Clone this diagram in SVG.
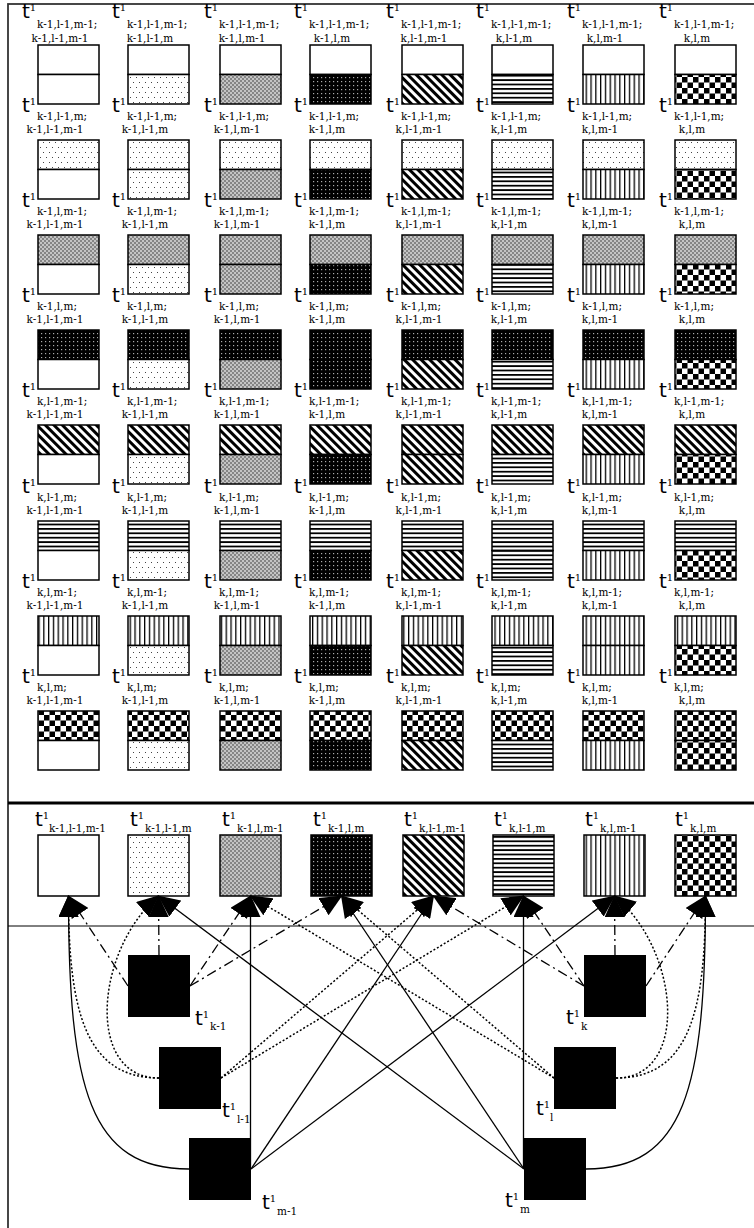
<svg xmlns="http://www.w3.org/2000/svg" width="754" height="1228" viewBox="0 0 754 1228">
<style>
.t{font-family:"DejaVu Sans",sans-serif;font-size:20px;fill:#000}
.sup{font-family:"DejaVu Serif",serif;font-size:10px}
.s{font-family:"DejaVu Serif",serif;font-size:10.5px;fill:#000}
.m{text-anchor:middle}
g.cell rect,g.node rect{stroke:#000;stroke-width:1.5}
g.blk rect{fill:#000;stroke:none}
.c{fill:none;stroke:#000;stroke-width:1.3;marker-end:url(#ah)}
.dot{stroke-dasharray:2 2;stroke-width:1.5}
.dd{stroke-dasharray:10 4 2 4}
</style>
<defs>
<marker id="ah" viewBox="0 0 22 20" refX="21" refY="10" markerWidth="22" markerHeight="20" orient="auto" markerUnits="userSpaceOnUse"><path d="M0,0 L22,10 L0,20 z" fill="#000"/></marker>
<pattern id="p1" width="6" height="10" patternUnits="userSpaceOnUse"><rect width="6" height="10" fill="#fff"/><rect x="1" y="2" width="1" height="1" fill="#444"/><rect x="4" y="7" width="1" height="1" fill="#444"/></pattern>
<pattern id="p2" width="4" height="4" patternUnits="userSpaceOnUse"><rect width="4" height="4" fill="#c4c4c4"/><rect width="2" height="2" fill="#858585"/><rect x="2" y="2" width="2" height="2" fill="#858585"/></pattern>
<pattern id="p3" width="4" height="4" patternUnits="userSpaceOnUse"><rect width="4" height="4" fill="#000"/><rect x="1" y="1" width="1.2" height="1.2" fill="#aaa"/></pattern>
<pattern id="p4" width="6" height="6" patternUnits="userSpaceOnUse" patternTransform="rotate(-45)"><rect width="6" height="6" fill="#fff"/><rect width="3" height="6" fill="#000"/></pattern>
<pattern id="p5" width="10" height="4.4" patternUnits="userSpaceOnUse"><rect width="10" height="4.4" fill="#fff"/><rect width="10" height="1.8" fill="#000"/></pattern>
<pattern id="p6" width="4.8" height="10" patternUnits="userSpaceOnUse"><rect width="4.8" height="10" fill="#fff"/><rect width="1.3" height="10" fill="#000"/></pattern>
<pattern id="p7" width="11" height="11" patternUnits="userSpaceOnUse"><rect width="11" height="11" fill="#fff"/><rect width="5.5" height="5.5" fill="#000"/><rect x="5.5" y="5.5" width="5.5" height="5.5" fill="#000"/></pattern>
</defs>
<rect width="754" height="1228" fill="#fff"/>
<g id="frame" fill="none" stroke="#333">
<rect x="8" y="4" width="760" height="1240" stroke-width="1.8"/>
<line x1="8" y1="803" x2="754" y2="803" stroke="#000" stroke-width="3"/>
<line x1="8" y1="926" x2="754" y2="926" stroke="#000" stroke-width="1"/>
</g>
<g id="grid">
<!-- row 0 -->
<g class="cell" id="cell-0-0"><rect x="38" y="45" width="61" height="29.5" fill="#fff"/><rect x="38" y="74.5" width="61" height="29.5" fill="#fff"/><text class="t" x="22" y="18">t<tspan class="sup" dy="-7">1</tspan></text><text class="s" x="37" y="28">k-1,l-1,m-1;</text><text class="s m" x="60" y="42">k-1,l-1,m-1</text></g>
<g class="cell" id="cell-0-1"><rect x="128" y="45" width="61" height="29.5" fill="#fff"/><rect x="128" y="74.5" width="61" height="29.5" fill="url(#p1)"/><text class="t" x="112" y="18">t<tspan class="sup" dy="-7">1</tspan></text><text class="s" x="127" y="28">k-1,l-1,m-1;</text><text class="s m" x="150" y="42">k-1,l-1,m</text></g>
<g class="cell" id="cell-0-2"><rect x="220" y="45" width="61" height="29.5" fill="#fff"/><rect x="220" y="74.5" width="61" height="29.5" fill="url(#p2)"/><text class="t" x="204" y="18">t<tspan class="sup" dy="-7">1</tspan></text><text class="s" x="219" y="28">k-1,l-1,m-1;</text><text class="s m" x="242" y="42">k-1,l,m-1</text></g>
<g class="cell" id="cell-0-3"><rect x="310" y="45" width="61" height="29.5" fill="#fff"/><rect x="310" y="74.5" width="61" height="29.5" fill="url(#p3)"/><text class="t" x="294" y="18">t<tspan class="sup" dy="-7">1</tspan></text><text class="s" x="309" y="28">k-1,l-1,m-1;</text><text class="s m" x="332" y="42">k-1,l,m</text></g>
<g class="cell" id="cell-0-4"><rect x="402" y="45" width="61" height="29.5" fill="#fff"/><rect x="402" y="74.5" width="61" height="29.5" fill="url(#p4)"/><text class="t" x="386" y="18">t<tspan class="sup" dy="-7">1</tspan></text><text class="s" x="401" y="28">k-1,l-1,m-1;</text><text class="s m" x="424" y="42">k,l-1,m-1</text></g>
<g class="cell" id="cell-0-5"><rect x="492" y="45" width="61" height="29.5" fill="#fff"/><rect x="492" y="74.5" width="61" height="29.5" fill="url(#p5)"/><text class="t" x="476" y="18">t<tspan class="sup" dy="-7">1</tspan></text><text class="s" x="491" y="28">k-1,l-1,m-1;</text><text class="s m" x="514" y="42">k,l-1,m</text></g>
<g class="cell" id="cell-0-6"><rect x="583" y="45" width="61" height="29.5" fill="#fff"/><rect x="583" y="74.5" width="61" height="29.5" fill="url(#p6)"/><text class="t" x="567" y="18">t<tspan class="sup" dy="-7">1</tspan></text><text class="s" x="582" y="28">k-1,l-1,m-1;</text><text class="s m" x="605" y="42">k,l,m-1</text></g>
<g class="cell" id="cell-0-7"><rect x="675" y="45" width="61" height="29.5" fill="#fff"/><rect x="675" y="74.5" width="61" height="29.5" fill="url(#p7)"/><text class="t" x="659" y="18">t<tspan class="sup" dy="-7">1</tspan></text><text class="s" x="674" y="28">k-1,l-1,m-1;</text><text class="s m" x="697" y="42">k,l,m</text></g>
<!-- row 1 -->
<g class="cell" id="cell-1-0"><rect x="38" y="140" width="61" height="29.5" fill="url(#p1)"/><rect x="38" y="169.5" width="61" height="29.5" fill="#fff"/><text class="t" x="22" y="112">t<tspan class="sup" dy="-7">1</tspan></text><text class="s" x="37" y="120">k-1,l-1,m;</text><text class="s m" x="55" y="133">k-1,l-1,m-1</text></g>
<g class="cell" id="cell-1-1"><rect x="128" y="140" width="61" height="29.5" fill="url(#p1)"/><rect x="128" y="169.5" width="61" height="29.5" fill="url(#p1)"/><text class="t" x="112" y="112">t<tspan class="sup" dy="-7">1</tspan></text><text class="s" x="127" y="120">k-1,l-1,m;</text><text class="s m" x="145" y="133">k-1,l-1,m</text></g>
<g class="cell" id="cell-1-2"><rect x="220" y="140" width="61" height="29.5" fill="url(#p1)"/><rect x="220" y="169.5" width="61" height="29.5" fill="url(#p2)"/><text class="t" x="204" y="112">t<tspan class="sup" dy="-7">1</tspan></text><text class="s" x="219" y="120">k-1,l-1,m;</text><text class="s m" x="237" y="133">k-1,l,m-1</text></g>
<g class="cell" id="cell-1-3"><rect x="310" y="140" width="61" height="29.5" fill="url(#p1)"/><rect x="310" y="169.5" width="61" height="29.5" fill="url(#p3)"/><text class="t" x="294" y="112">t<tspan class="sup" dy="-7">1</tspan></text><text class="s" x="309" y="120">k-1,l-1,m;</text><text class="s m" x="327" y="133">k-1,l,m</text></g>
<g class="cell" id="cell-1-4"><rect x="402" y="140" width="61" height="29.5" fill="url(#p1)"/><rect x="402" y="169.5" width="61" height="29.5" fill="url(#p4)"/><text class="t" x="386" y="112">t<tspan class="sup" dy="-7">1</tspan></text><text class="s" x="401" y="120">k-1,l-1,m;</text><text class="s m" x="419" y="133">k,l-1,m-1</text></g>
<g class="cell" id="cell-1-5"><rect x="492" y="140" width="61" height="29.5" fill="url(#p1)"/><rect x="492" y="169.5" width="61" height="29.5" fill="url(#p5)"/><text class="t" x="476" y="112">t<tspan class="sup" dy="-7">1</tspan></text><text class="s" x="491" y="120">k-1,l-1,m;</text><text class="s m" x="509" y="133">k,l-1,m</text></g>
<g class="cell" id="cell-1-6"><rect x="583" y="140" width="61" height="29.5" fill="url(#p1)"/><rect x="583" y="169.5" width="61" height="29.5" fill="url(#p6)"/><text class="t" x="567" y="112">t<tspan class="sup" dy="-7">1</tspan></text><text class="s" x="582" y="120">k-1,l-1,m;</text><text class="s m" x="600" y="133">k,l,m-1</text></g>
<g class="cell" id="cell-1-7"><rect x="675" y="140" width="61" height="29.5" fill="url(#p1)"/><rect x="675" y="169.5" width="61" height="29.5" fill="url(#p7)"/><text class="t" x="659" y="112">t<tspan class="sup" dy="-7">1</tspan></text><text class="s" x="674" y="120">k-1,l-1,m;</text><text class="s m" x="692" y="133">k,l,m</text></g>
<!-- row 2 -->
<g class="cell" id="cell-2-0"><rect x="38" y="235" width="61" height="29.5" fill="url(#p2)"/><rect x="38" y="264.5" width="61" height="29.5" fill="#fff"/><text class="t" x="22" y="207">t<tspan class="sup" dy="-7">1</tspan></text><text class="s" x="37" y="215">k-1,l,m-1;</text><text class="s m" x="55" y="228">k-1,l-1,m-1</text></g>
<g class="cell" id="cell-2-1"><rect x="128" y="235" width="61" height="29.5" fill="url(#p2)"/><rect x="128" y="264.5" width="61" height="29.5" fill="url(#p1)"/><text class="t" x="112" y="207">t<tspan class="sup" dy="-7">1</tspan></text><text class="s" x="127" y="215">k-1,l,m-1;</text><text class="s m" x="145" y="228">k-1,l-1,m</text></g>
<g class="cell" id="cell-2-2"><rect x="220" y="235" width="61" height="29.5" fill="url(#p2)"/><rect x="220" y="264.5" width="61" height="29.5" fill="url(#p2)"/><text class="t" x="204" y="207">t<tspan class="sup" dy="-7">1</tspan></text><text class="s" x="219" y="215">k-1,l,m-1;</text><text class="s m" x="237" y="228">k-1,l,m-1</text></g>
<g class="cell" id="cell-2-3"><rect x="310" y="235" width="61" height="29.5" fill="url(#p2)"/><rect x="310" y="264.5" width="61" height="29.5" fill="url(#p3)"/><text class="t" x="294" y="207">t<tspan class="sup" dy="-7">1</tspan></text><text class="s" x="309" y="215">k-1,l,m-1;</text><text class="s m" x="327" y="228">k-1,l,m</text></g>
<g class="cell" id="cell-2-4"><rect x="402" y="235" width="61" height="29.5" fill="url(#p2)"/><rect x="402" y="264.5" width="61" height="29.5" fill="url(#p4)"/><text class="t" x="386" y="207">t<tspan class="sup" dy="-7">1</tspan></text><text class="s" x="401" y="215">k-1,l,m-1;</text><text class="s m" x="419" y="228">k,l-1,m-1</text></g>
<g class="cell" id="cell-2-5"><rect x="492" y="235" width="61" height="29.5" fill="url(#p2)"/><rect x="492" y="264.5" width="61" height="29.5" fill="url(#p5)"/><text class="t" x="476" y="207">t<tspan class="sup" dy="-7">1</tspan></text><text class="s" x="491" y="215">k-1,l,m-1;</text><text class="s m" x="509" y="228">k,l-1,m</text></g>
<g class="cell" id="cell-2-6"><rect x="583" y="235" width="61" height="29.5" fill="url(#p2)"/><rect x="583" y="264.5" width="61" height="29.5" fill="url(#p6)"/><text class="t" x="567" y="207">t<tspan class="sup" dy="-7">1</tspan></text><text class="s" x="582" y="215">k-1,l,m-1;</text><text class="s m" x="600" y="228">k,l,m-1</text></g>
<g class="cell" id="cell-2-7"><rect x="675" y="235" width="61" height="29.5" fill="url(#p2)"/><rect x="675" y="264.5" width="61" height="29.5" fill="url(#p7)"/><text class="t" x="659" y="207">t<tspan class="sup" dy="-7">1</tspan></text><text class="s" x="674" y="215">k-1,l,m-1;</text><text class="s m" x="692" y="228">k,l,m</text></g>
<!-- row 3 -->
<g class="cell" id="cell-3-0"><rect x="38" y="330" width="61" height="29.5" fill="url(#p3)"/><rect x="38" y="359.5" width="61" height="29.5" fill="#fff"/><text class="t" x="22" y="302">t<tspan class="sup" dy="-7">1</tspan></text><text class="s" x="37" y="310">k-1,l,m;</text><text class="s m" x="55" y="323">k-1,l-1,m-1</text></g>
<g class="cell" id="cell-3-1"><rect x="128" y="330" width="61" height="29.5" fill="url(#p3)"/><rect x="128" y="359.5" width="61" height="29.5" fill="url(#p1)"/><text class="t" x="112" y="302">t<tspan class="sup" dy="-7">1</tspan></text><text class="s" x="127" y="310">k-1,l,m;</text><text class="s m" x="145" y="323">k-1,l-1,m</text></g>
<g class="cell" id="cell-3-2"><rect x="220" y="330" width="61" height="29.5" fill="url(#p3)"/><rect x="220" y="359.5" width="61" height="29.5" fill="url(#p2)"/><text class="t" x="204" y="302">t<tspan class="sup" dy="-7">1</tspan></text><text class="s" x="219" y="310">k-1,l,m;</text><text class="s m" x="237" y="323">k-1,l,m-1</text></g>
<g class="cell" id="cell-3-3"><rect x="310" y="330" width="61" height="29.5" fill="url(#p3)"/><rect x="310" y="359.5" width="61" height="29.5" fill="url(#p3)"/><text class="t" x="294" y="302">t<tspan class="sup" dy="-7">1</tspan></text><text class="s" x="309" y="310">k-1,l,m;</text><text class="s m" x="327" y="323">k-1,l,m</text></g>
<g class="cell" id="cell-3-4"><rect x="402" y="330" width="61" height="29.5" fill="url(#p3)"/><rect x="402" y="359.5" width="61" height="29.5" fill="url(#p4)"/><text class="t" x="386" y="302">t<tspan class="sup" dy="-7">1</tspan></text><text class="s" x="401" y="310">k-1,l,m;</text><text class="s m" x="419" y="323">k,l-1,m-1</text></g>
<g class="cell" id="cell-3-5"><rect x="492" y="330" width="61" height="29.5" fill="url(#p3)"/><rect x="492" y="359.5" width="61" height="29.5" fill="url(#p5)"/><text class="t" x="476" y="302">t<tspan class="sup" dy="-7">1</tspan></text><text class="s" x="491" y="310">k-1,l,m;</text><text class="s m" x="509" y="323">k,l-1,m</text></g>
<g class="cell" id="cell-3-6"><rect x="583" y="330" width="61" height="29.5" fill="url(#p3)"/><rect x="583" y="359.5" width="61" height="29.5" fill="url(#p6)"/><text class="t" x="567" y="302">t<tspan class="sup" dy="-7">1</tspan></text><text class="s" x="582" y="310">k-1,l,m;</text><text class="s m" x="600" y="323">k,l,m-1</text></g>
<g class="cell" id="cell-3-7"><rect x="675" y="330" width="61" height="29.5" fill="url(#p3)"/><rect x="675" y="359.5" width="61" height="29.5" fill="url(#p7)"/><text class="t" x="659" y="302">t<tspan class="sup" dy="-7">1</tspan></text><text class="s" x="674" y="310">k-1,l,m;</text><text class="s m" x="692" y="323">k,l,m</text></g>
<!-- row 4 -->
<g class="cell" id="cell-4-0"><rect x="38" y="425" width="61" height="29.5" fill="url(#p4)"/><rect x="38" y="454.5" width="61" height="29.5" fill="#fff"/><text class="t" x="22" y="397">t<tspan class="sup" dy="-7">1</tspan></text><text class="s" x="37" y="405">k,l-1,m-1;</text><text class="s m" x="55" y="418">k-1,l-1,m-1</text></g>
<g class="cell" id="cell-4-1"><rect x="128" y="425" width="61" height="29.5" fill="url(#p4)"/><rect x="128" y="454.5" width="61" height="29.5" fill="url(#p1)"/><text class="t" x="112" y="397">t<tspan class="sup" dy="-7">1</tspan></text><text class="s" x="127" y="405">k,l-1,m-1;</text><text class="s m" x="145" y="418">k-1,l-1,m</text></g>
<g class="cell" id="cell-4-2"><rect x="220" y="425" width="61" height="29.5" fill="url(#p4)"/><rect x="220" y="454.5" width="61" height="29.5" fill="url(#p2)"/><text class="t" x="204" y="397">t<tspan class="sup" dy="-7">1</tspan></text><text class="s" x="219" y="405">k,l-1,m-1;</text><text class="s m" x="237" y="418">k-1,l,m-1</text></g>
<g class="cell" id="cell-4-3"><rect x="310" y="425" width="61" height="29.5" fill="url(#p4)"/><rect x="310" y="454.5" width="61" height="29.5" fill="url(#p3)"/><text class="t" x="294" y="397">t<tspan class="sup" dy="-7">1</tspan></text><text class="s" x="309" y="405">k,l-1,m-1;</text><text class="s m" x="327" y="418">k-1,l,m</text></g>
<g class="cell" id="cell-4-4"><rect x="402" y="425" width="61" height="29.5" fill="url(#p4)"/><rect x="402" y="454.5" width="61" height="29.5" fill="url(#p4)"/><text class="t" x="386" y="397">t<tspan class="sup" dy="-7">1</tspan></text><text class="s" x="401" y="405">k,l-1,m-1;</text><text class="s m" x="419" y="418">k,l-1,m-1</text></g>
<g class="cell" id="cell-4-5"><rect x="492" y="425" width="61" height="29.5" fill="url(#p4)"/><rect x="492" y="454.5" width="61" height="29.5" fill="url(#p5)"/><text class="t" x="476" y="397">t<tspan class="sup" dy="-7">1</tspan></text><text class="s" x="491" y="405">k,l-1,m-1;</text><text class="s m" x="509" y="418">k,l-1,m</text></g>
<g class="cell" id="cell-4-6"><rect x="583" y="425" width="61" height="29.5" fill="url(#p4)"/><rect x="583" y="454.5" width="61" height="29.5" fill="url(#p6)"/><text class="t" x="567" y="397">t<tspan class="sup" dy="-7">1</tspan></text><text class="s" x="582" y="405">k,l-1,m-1;</text><text class="s m" x="600" y="418">k,l,m-1</text></g>
<g class="cell" id="cell-4-7"><rect x="675" y="425" width="61" height="29.5" fill="url(#p4)"/><rect x="675" y="454.5" width="61" height="29.5" fill="url(#p7)"/><text class="t" x="659" y="397">t<tspan class="sup" dy="-7">1</tspan></text><text class="s" x="674" y="405">k,l-1,m-1;</text><text class="s m" x="692" y="418">k,l,m</text></g>
<!-- row 5 -->
<g class="cell" id="cell-5-0"><rect x="38" y="521" width="61" height="29.5" fill="url(#p5)"/><rect x="38" y="550.5" width="61" height="29.5" fill="#fff"/><text class="t" x="22" y="493">t<tspan class="sup" dy="-7">1</tspan></text><text class="s" x="37" y="501">k,l-1,m;</text><text class="s m" x="55" y="514">k-1,l-1,m-1</text></g>
<g class="cell" id="cell-5-1"><rect x="128" y="521" width="61" height="29.5" fill="url(#p5)"/><rect x="128" y="550.5" width="61" height="29.5" fill="url(#p1)"/><text class="t" x="112" y="493">t<tspan class="sup" dy="-7">1</tspan></text><text class="s" x="127" y="501">k,l-1,m;</text><text class="s m" x="145" y="514">k-1,l-1,m</text></g>
<g class="cell" id="cell-5-2"><rect x="220" y="521" width="61" height="29.5" fill="url(#p5)"/><rect x="220" y="550.5" width="61" height="29.5" fill="url(#p2)"/><text class="t" x="204" y="493">t<tspan class="sup" dy="-7">1</tspan></text><text class="s" x="219" y="501">k,l-1,m;</text><text class="s m" x="237" y="514">k-1,l,m-1</text></g>
<g class="cell" id="cell-5-3"><rect x="310" y="521" width="61" height="29.5" fill="url(#p5)"/><rect x="310" y="550.5" width="61" height="29.5" fill="url(#p3)"/><text class="t" x="294" y="493">t<tspan class="sup" dy="-7">1</tspan></text><text class="s" x="309" y="501">k,l-1,m;</text><text class="s m" x="327" y="514">k-1,l,m</text></g>
<g class="cell" id="cell-5-4"><rect x="402" y="521" width="61" height="29.5" fill="url(#p5)"/><rect x="402" y="550.5" width="61" height="29.5" fill="url(#p4)"/><text class="t" x="386" y="493">t<tspan class="sup" dy="-7">1</tspan></text><text class="s" x="401" y="501">k,l-1,m;</text><text class="s m" x="419" y="514">k,l-1,m-1</text></g>
<g class="cell" id="cell-5-5"><rect x="492" y="521" width="61" height="29.5" fill="url(#p5)"/><rect x="492" y="550.5" width="61" height="29.5" fill="url(#p5)"/><text class="t" x="476" y="493">t<tspan class="sup" dy="-7">1</tspan></text><text class="s" x="491" y="501">k,l-1,m;</text><text class="s m" x="509" y="514">k,l-1,m</text></g>
<g class="cell" id="cell-5-6"><rect x="583" y="521" width="61" height="29.5" fill="url(#p5)"/><rect x="583" y="550.5" width="61" height="29.5" fill="url(#p6)"/><text class="t" x="567" y="493">t<tspan class="sup" dy="-7">1</tspan></text><text class="s" x="582" y="501">k,l-1,m;</text><text class="s m" x="600" y="514">k,l,m-1</text></g>
<g class="cell" id="cell-5-7"><rect x="675" y="521" width="61" height="29.5" fill="url(#p5)"/><rect x="675" y="550.5" width="61" height="29.5" fill="url(#p7)"/><text class="t" x="659" y="493">t<tspan class="sup" dy="-7">1</tspan></text><text class="s" x="674" y="501">k,l-1,m;</text><text class="s m" x="692" y="514">k,l,m</text></g>
<!-- row 6 -->
<g class="cell" id="cell-6-0"><rect x="38" y="616" width="61" height="29.5" fill="url(#p6)"/><rect x="38" y="645.5" width="61" height="29.5" fill="#fff"/><text class="t" x="22" y="588">t<tspan class="sup" dy="-7">1</tspan></text><text class="s" x="37" y="596">k,l,m-1;</text><text class="s m" x="55" y="609">k-1,l-1,m-1</text></g>
<g class="cell" id="cell-6-1"><rect x="128" y="616" width="61" height="29.5" fill="url(#p6)"/><rect x="128" y="645.5" width="61" height="29.5" fill="url(#p1)"/><text class="t" x="112" y="588">t<tspan class="sup" dy="-7">1</tspan></text><text class="s" x="127" y="596">k,l,m-1;</text><text class="s m" x="145" y="609">k-1,l-1,m</text></g>
<g class="cell" id="cell-6-2"><rect x="220" y="616" width="61" height="29.5" fill="url(#p6)"/><rect x="220" y="645.5" width="61" height="29.5" fill="url(#p2)"/><text class="t" x="204" y="588">t<tspan class="sup" dy="-7">1</tspan></text><text class="s" x="219" y="596">k,l,m-1;</text><text class="s m" x="237" y="609">k-1,l,m-1</text></g>
<g class="cell" id="cell-6-3"><rect x="310" y="616" width="61" height="29.5" fill="url(#p6)"/><rect x="310" y="645.5" width="61" height="29.5" fill="url(#p3)"/><text class="t" x="294" y="588">t<tspan class="sup" dy="-7">1</tspan></text><text class="s" x="309" y="596">k,l,m-1;</text><text class="s m" x="327" y="609">k-1,l,m</text></g>
<g class="cell" id="cell-6-4"><rect x="402" y="616" width="61" height="29.5" fill="url(#p6)"/><rect x="402" y="645.5" width="61" height="29.5" fill="url(#p4)"/><text class="t" x="386" y="588">t<tspan class="sup" dy="-7">1</tspan></text><text class="s" x="401" y="596">k,l,m-1;</text><text class="s m" x="419" y="609">k,l-1,m-1</text></g>
<g class="cell" id="cell-6-5"><rect x="492" y="616" width="61" height="29.5" fill="url(#p6)"/><rect x="492" y="645.5" width="61" height="29.5" fill="url(#p5)"/><text class="t" x="476" y="588">t<tspan class="sup" dy="-7">1</tspan></text><text class="s" x="491" y="596">k,l,m-1;</text><text class="s m" x="509" y="609">k,l-1,m</text></g>
<g class="cell" id="cell-6-6"><rect x="583" y="616" width="61" height="29.5" fill="url(#p6)"/><rect x="583" y="645.5" width="61" height="29.5" fill="url(#p6)"/><text class="t" x="567" y="588">t<tspan class="sup" dy="-7">1</tspan></text><text class="s" x="582" y="596">k,l,m-1;</text><text class="s m" x="600" y="609">k,l,m-1</text></g>
<g class="cell" id="cell-6-7"><rect x="675" y="616" width="61" height="29.5" fill="url(#p6)"/><rect x="675" y="645.5" width="61" height="29.5" fill="url(#p7)"/><text class="t" x="659" y="588">t<tspan class="sup" dy="-7">1</tspan></text><text class="s" x="674" y="596">k,l,m-1;</text><text class="s m" x="692" y="609">k,l,m</text></g>
<!-- row 7 -->
<g class="cell" id="cell-7-0"><rect x="38" y="711" width="61" height="29.5" fill="url(#p7)"/><rect x="38" y="740.5" width="61" height="29.5" fill="#fff"/><text class="t" x="22" y="683">t<tspan class="sup" dy="-7">1</tspan></text><text class="s" x="37" y="691">k,l,m;</text><text class="s m" x="55" y="704">k-1,l-1,m-1</text></g>
<g class="cell" id="cell-7-1"><rect x="128" y="711" width="61" height="29.5" fill="url(#p7)"/><rect x="128" y="740.5" width="61" height="29.5" fill="url(#p1)"/><text class="t" x="112" y="683">t<tspan class="sup" dy="-7">1</tspan></text><text class="s" x="127" y="691">k,l,m;</text><text class="s m" x="145" y="704">k-1,l-1,m</text></g>
<g class="cell" id="cell-7-2"><rect x="220" y="711" width="61" height="29.5" fill="url(#p7)"/><rect x="220" y="740.5" width="61" height="29.5" fill="url(#p2)"/><text class="t" x="204" y="683">t<tspan class="sup" dy="-7">1</tspan></text><text class="s" x="219" y="691">k,l,m;</text><text class="s m" x="237" y="704">k-1,l,m-1</text></g>
<g class="cell" id="cell-7-3"><rect x="310" y="711" width="61" height="29.5" fill="url(#p7)"/><rect x="310" y="740.5" width="61" height="29.5" fill="url(#p3)"/><text class="t" x="294" y="683">t<tspan class="sup" dy="-7">1</tspan></text><text class="s" x="309" y="691">k,l,m;</text><text class="s m" x="327" y="704">k-1,l,m</text></g>
<g class="cell" id="cell-7-4"><rect x="402" y="711" width="61" height="29.5" fill="url(#p7)"/><rect x="402" y="740.5" width="61" height="29.5" fill="url(#p4)"/><text class="t" x="386" y="683">t<tspan class="sup" dy="-7">1</tspan></text><text class="s" x="401" y="691">k,l,m;</text><text class="s m" x="419" y="704">k,l-1,m-1</text></g>
<g class="cell" id="cell-7-5"><rect x="492" y="711" width="61" height="29.5" fill="url(#p7)"/><rect x="492" y="740.5" width="61" height="29.5" fill="url(#p5)"/><text class="t" x="476" y="683">t<tspan class="sup" dy="-7">1</tspan></text><text class="s" x="491" y="691">k,l,m;</text><text class="s m" x="509" y="704">k,l-1,m</text></g>
<g class="cell" id="cell-7-6"><rect x="583" y="711" width="61" height="29.5" fill="url(#p7)"/><rect x="583" y="740.5" width="61" height="29.5" fill="url(#p6)"/><text class="t" x="567" y="683">t<tspan class="sup" dy="-7">1</tspan></text><text class="s" x="582" y="691">k,l,m;</text><text class="s m" x="600" y="704">k,l,m-1</text></g>
<g class="cell" id="cell-7-7"><rect x="675" y="711" width="61" height="29.5" fill="url(#p7)"/><rect x="675" y="740.5" width="61" height="29.5" fill="url(#p7)"/><text class="t" x="659" y="683">t<tspan class="sup" dy="-7">1</tspan></text><text class="s" x="674" y="691">k,l,m;</text><text class="s m" x="692" y="704">k,l,m</text></g>
</g>
<g id="targets">
<g class="node" id="t-k-1_l-1_m-1"><rect x="38" y="835" width="61" height="61" fill="#fff"/><text class="t" x="35" y="826">t<tspan class="sup" dy="-7">1</tspan></text><text class="s" x="49" y="832">k-1,l-1,m-1</text></g>
<g class="node" id="t-k-1_l-1_m"><rect x="128" y="835" width="61" height="61" fill="url(#p1)"/><text class="t" x="130" y="826">t<tspan class="sup" dy="-7">1</tspan></text><text class="s" x="145" y="832">k-1,l-1,m</text></g>
<g class="node" id="t-k-1_l_m-1"><rect x="220" y="835" width="61" height="61" fill="url(#p2)"/><text class="t" x="222" y="826">t<tspan class="sup" dy="-7">1</tspan></text><text class="s" x="237" y="832">k-1,l,m-1</text></g>
<g class="node" id="t-k-1_l_m"><rect x="311" y="835" width="61" height="61" fill="url(#p3)"/><text class="t" x="313" y="826">t<tspan class="sup" dy="-7">1</tspan></text><text class="s" x="328" y="832">k-1,l,m</text></g>
<g class="node" id="t-k_l-1_m-1"><rect x="403" y="835" width="61" height="61" fill="url(#p4)"/><text class="t" x="404" y="826">t<tspan class="sup" dy="-7">1</tspan></text><text class="s" x="419" y="832">k,l-1,m-1</text></g>
<g class="node" id="t-k_l-1_m"><rect x="493" y="835" width="61" height="61" fill="url(#p5)"/><text class="t" x="494" y="826">t<tspan class="sup" dy="-7">1</tspan></text><text class="s" x="509" y="832">k,l-1,m</text></g>
<g class="node" id="t-k_l_m-1"><rect x="584" y="835" width="61" height="61" fill="url(#p6)"/><text class="t" x="585" y="826">t<tspan class="sup" dy="-7">1</tspan></text><text class="s" x="600" y="832">k,l,m-1</text></g>
<g class="node" id="t-k_l_m"><rect x="675" y="835" width="61" height="61" fill="url(#p7)"/><text class="t" x="675" y="826">t<tspan class="sup" dy="-7">1</tspan></text><text class="s" x="690" y="832">k,l,m</text></g>
</g>
<g id="connectors">
<path class="c" d="M189,1169 C90,1169 68.5,1090 68.5,896"/>
<path class="c" d="M250.5,1169 V896"/>
<path class="c" d="M251,1169 L433.5,896"/>
<path class="c" d="M251,1169 L614.5,896"/>
<path class="c" d="M586,1169 C684,1169 705.5,1090 705.5,896"/>
<path class="c" d="M523.5,1169 V896"/>
<path class="c" d="M524,1169 L341.5,896"/>
<path class="c" d="M524,1169 L158.5,896"/>
<path class="c dd" d="M128,986 L68.5,896"/>
<path class="c dd" d="M159,955 L158.5,896"/>
<path class="c dd" d="M190,986 L250.5,896"/>
<path class="c dd" d="M190,986 L341.5,896"/>
<path class="c dd" d="M584,986 L433.5,896"/>
<path class="c dd" d="M584,986 L523.5,896"/>
<path class="c dd" d="M615,955 L614.5,896"/>
<path class="c dd" d="M646,986 L705.5,896"/>
<path class="c dot" d="M159,1078 C85,1078 68.5,1010 68.5,896"/>
<path class="c dot" d="M159,1078 C85,1078 95,950 158.5,896"/>
<path class="c dot" d="M221,1078 L433.5,896"/>
<path class="c dot" d="M221,1078 L523.5,896"/>
<path class="c dot" d="M554,1078 L250.5,896"/>
<path class="c dot" d="M554,1078 L341.5,896"/>
<path class="c dot" d="M616,1078 C690,1078 705.5,1010 705.5,896"/>
<path class="c dot" d="M616,1078 C690,1078 680,950 614.5,896"/>
</g>
<g id="sources">
<g class="blk" id="s-k-1"><rect x="128" y="955" width="62" height="62"/><text class="t" x="195" y="1025">t<tspan class="sup" dy="-7">1</tspan></text><text class="s" x="210" y="1030">k-1</text></g>
<g class="blk" id="s-l-1"><rect x="159" y="1047" width="62" height="62"/><text class="t" x="222" y="1117">t<tspan class="sup" dy="-7">1</tspan></text><text class="s" x="237" y="1123">l-1</text></g>
<g class="blk" id="s-m-1"><rect x="189" y="1138" width="62" height="62"/><text class="t" x="262" y="1209">t<tspan class="sup" dy="-7">1</tspan></text><text class="s" x="277" y="1215">m-1</text></g>
<g class="blk" id="s-k"><rect x="584" y="955" width="62" height="62"/><text class="t" x="566" y="1024">t<tspan class="sup" dy="-7">1</tspan></text><text class="s" x="581" y="1030">k</text></g>
<g class="blk" id="s-l"><rect x="554" y="1047" width="62" height="62"/><text class="t" x="536" y="1115">t<tspan class="sup" dy="-7">1</tspan></text><text class="s" x="550" y="1121">l</text></g>
<g class="blk" id="s-m"><rect x="524" y="1138" width="62" height="62"/><text class="t" x="505" y="1207">t<tspan class="sup" dy="-7">1</tspan></text><text class="s" x="520" y="1213">m</text></g>
</g>
</svg>
